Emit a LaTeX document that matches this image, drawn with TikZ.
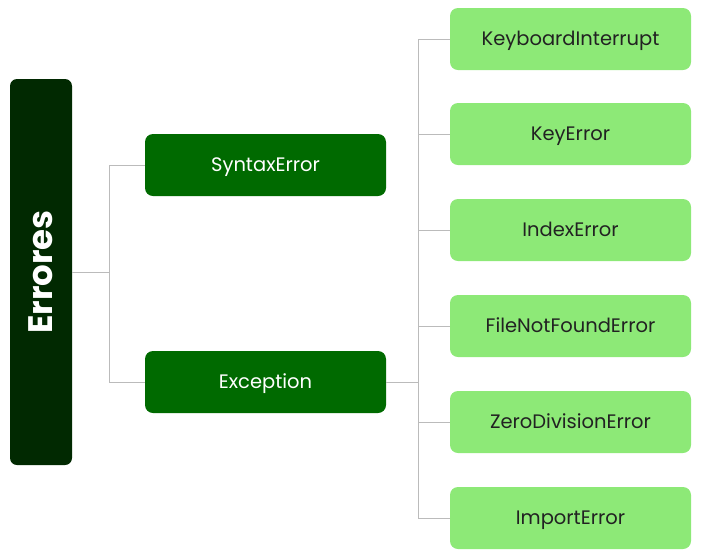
\documentclass[tikz,border=0pt]{standalone}
\usepackage{fontspec}
\setmainfont{Poppins}
\begin{document}
\begin{tikzpicture}[x=1pt,y=-1pt,
  rootbox/.style={draw=none,fill=rootgreen,rounded corners=7pt,minimum width=62pt,minimum height=386pt,inner sep=0pt},
  box/.style={draw=none,rounded corners=8pt,minimum width=241pt,minimum height=62pt,inner sep=0pt,text height=13.6pt,text depth=0pt,font=\fontsize{19.5}{22}\selectfont},
  midbox/.style={box,fill=midgreen,text=white},
  leafbox/.style={box,fill=leafgreen,text=leaftext},
  link/.style={draw=linegrey,line width=0.8pt}]
\definecolor{rootgreen}{HTML}{012901}
\definecolor{midgreen}{HTML}{006A00}
\definecolor{leafgreen}{HTML}{8DE977}
\definecolor{leaftext}{HTML}{222222}
\definecolor{linegrey}{HTML}{BBBBBB}
\useasboundingbox (0,0) rectangle (702,558);
\node[rootbox] (root) at (41,272) {};
\node[rotate=90,text=white,font=\fontsize{34}{38}\bfseries\selectfont] (roottext) at (root.center) {Errores};
\node[midbox] (syn) at (265.5,165) {SyntaxError};
\node[midbox] (exc) at (265.5,382) {Exception};
\node[leafbox] (l1) at (570.5,39) {KeyboardInterrupt};
\node[leafbox] (l2) at (570.5,134) {KeyError};
\node[leafbox] (l3) at (570.5,230) {IndexError};
\node[leafbox] (l4) at (570.5,326) {FileNotFoundError};
\node[leafbox] (l5) at (570.5,422) {ZeroDivisionError};
\node[leafbox] (l6) at (570.5,518) {ImportError};
\coordinate (j1) at (109,272);
\coordinate (j2) at (418,382);
\draw[link] (root.east) -- (j1);
\draw[link] (j1) |- (syn.west);
\draw[link] (j1) |- (exc.west);
\draw[link] (exc.east) -- (j2);
\foreach \n in {l1,l2,l3,l4,l5,l6} \draw[link] (j2) |- (\n.west);
\end{tikzpicture}
\end{document}
